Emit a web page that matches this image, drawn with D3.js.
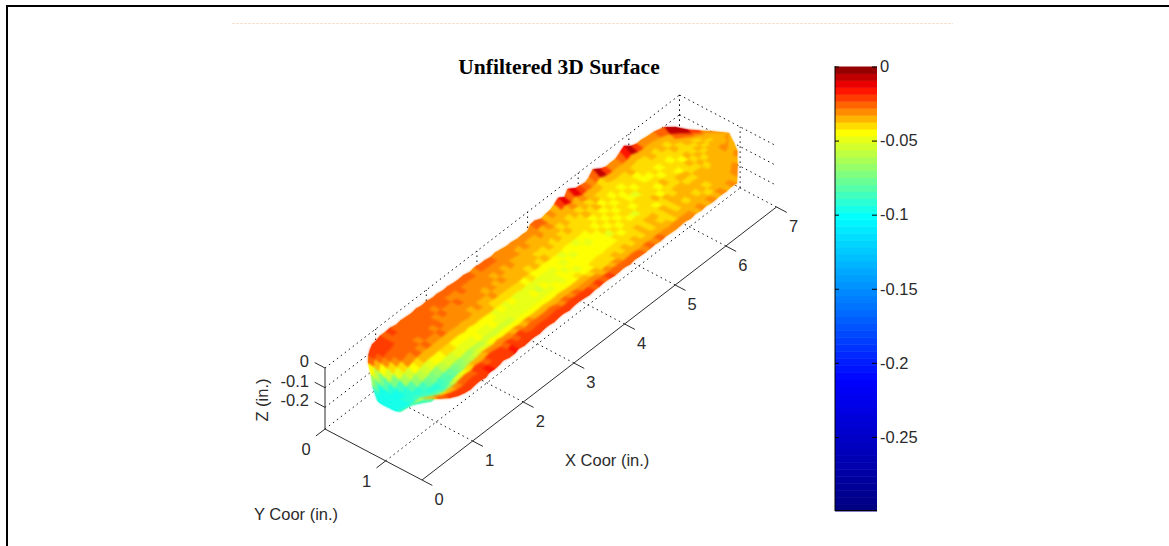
<!DOCTYPE html>
<html>
<head>
<meta charset="utf-8">
<script src="https://cdnjs.cloudflare.com/ajax/libs/d3/7.8.5/d3.min.js"></script>
<style>
  body { margin: 0; background: #fff; }
  text { font-family: "Liberation Sans", Arial, sans-serif; font-size: 16.5px; fill: #2b2b2b; }
  .title { font-family: "Liberation Serif", "Times New Roman", serif; font-size: 21.5px; font-weight: bold; fill: #000; }
  .grid { stroke: #111; stroke-width: 1; stroke-dasharray: 1.5 3.5; fill: none; }
  .axis3d { stroke: #2b2b2b; stroke-width: 1; fill: none; }
</style>
</head>
<body>
<div id="container"></div>
<script>
// axis ticks
var xTicks = [0, 1, 2, 3, 4, 5, 6, 7];
var yTicks = [0, 1];
var zTicks = [0, -0.1, -0.2];
var barTicks = [0, -0.05, -0.1, -0.15, -0.2, -0.25];

// jet style colour stops
var stopValues = [0, -0.014, -0.044, -0.101, -0.212, -0.3];
var stopColors = ["#800000", "#ff0000", "#ffff00", "#00ffff", "#0000ff", "#000080"];

// measured stations along X, with the edges of the scan in Y at each one
var xStations = [0.2,0.3,0.4,0.5,0.6,0.7,0.8,0.9,1.0,1.1,1.2,1.3,1.4,1.5,1.6,1.7,1.8,1.9,2.0,2.1,2.2,2.3,2.4,2.5,2.6,2.7,2.8,2.9,3.0,3.1,3.2,3.3,3.4,3.5,3.6,3.7,3.8,3.9,4.0,4.1,4.2,4.3,4.4,4.5,4.6,4.7,4.8,4.9,5.0,5.1,5.2,5.3,5.4,5.5,5.6,5.7,5.8,5.9,6.0,6.1,6.2,6.3,6.4,6.5,6.6,6.7,6.8,6.9];
var yTop = [.70,.54,.43,.30,.22,.16,.115,.10,.075,.08,.07,.09,.08,.085,.09,.08,.09,.085,.10,.09,.11,.10,.11,.12,.11,.13,.12,.13,.13,.14,.13,.14,.16,.15,.17,.16,.17,.13,.12,.14,.13,.12,.11,.09,.11,.08,.12,.11,.12,.10,.08,.11,.12,.11,.12,.11,.09,.12,.13,.12,.14,.16,.25,.35,.47,.58,.72,.88];
var yBottom = [1.12,1.22,1.30,1.44,1.55,1.61,1.64,1.65,1.64,1.63,1.65,1.62,1.63,1.62,1.60,1.62,1.63,1.60,1.62,1.61,1.60,1.62,1.60,1.60,1.61,1.60,1.59,1.61,1.60,1.59,1.60,1.61,1.60,1.60,1.59,1.60,1.61,1.60,1.60,1.61,1.60,1.60,1.61,1.60,1.60,1.61,1.60,1.60,1.61,1.60,1.60,1.61,1.60,1.61,1.60,1.61,1.61,1.60,1.61,1.60,1.61,1.53,1.45,1.37,1.28,1.20,1.06,.90];

// surface depth in thousandths of an inch below zero, one row per station, top edge to bottom edge
var depths = [
  [92,96,97,98,97,98,96,97,96,95,92,88,82,70],
  [66,84,94,97,98,97,95,94,96,97,92,76,58,40],
  [44,58,72,84,92,96,95,92,90,95,88,60,34,24],
  [28,33,44,56,72,86,93,92,86,90,84,48,25,21],
  [23,25,29,38,50,64,82,92,88,84,86,40,22,19],
  [22,23,25,29,38,52,70,86,92,82,76,34,21,18],
  [20,23,24,27,32,44,58,78,90,86,66,30,20,17],
  [22,22,26,25,30,38,52,72,88,84,56,27,20,18],
  [24,25,24,28,28,36,47,66,84,82,48,25,19,17],
  [23,24,26,27,30,33,44,60,76,76,44,24,19,19],
  [24,26,25,29,28,33,43,56,72,68,40,23,20,17],
  [25,26,24,28,30,33,42,52,68,64,37,22,18,18],
  [24,25,28,27,29,34,42,50,64,58,34,24,20,17],
  [25,27,26,29,28,33,43,48,62,54,33,22,19,18],
  [26,28,26,28,31,33,44,47,60,50,32,23,21,18],
  [24,26,31,29,29,35,43,47,58,48,31,22,19,20],
  [27,29,27,30,31,34,45,46,56,46,30,24,18,17],
  [25,27,30,29,32,35,44,47,55,45,32,23,20,19],
  [26,26,29,31,31,37,46,47,53,46,31,25,19,18],
  [27,29,28,30,33,35,46,46,54,44,33,23,21,19],
  [25,29,30,32,31,37,45,48,52,45,31,24,19,20],
  [27,28,29,31,34,37,47,47,52,44,33,26,20,17],
  [28,30,31,30,34,39,46,48,50,45,32,24,22,19],
  [26,30,29,33,32,38,47,47,51,44,34,27,20,18],
  [28,31,32,31,35,40,46,50,48,46,33,25,21,19],
  [29,29,30,34,33,39,48,47,50,44,34,28,20,18],
  [27,31,33,32,36,42,47,49,47,45,35,26,22,20],
  [28,30,31,36,34,40,48,46,50,43,34,29,20,19],
  [28,32,33,33,37,43,47,52,47,44,36,27,23,18],
  [30,30,32,36,35,41,49,46,49,43,34,30,21,20],
  [29,32,34,34,38,43,47,49,46,45,36,28,23,19],
  [31,31,33,37,36,44,47,47,47,43,35,31,21,20],
  [29,34,35,34,40,43,48,46,45,44,37,29,24,19],
  [32,32,34,38,37,44,46,48,46,42,36,32,22,20],
  [30,35,33,39,40,43,48,45,47,43,38,30,25,21],
  [32,33,36,36,39,47,45,46,44,44,37,33,23,19],
  [31,32,35,40,38,43,49,45,46,42,38,31,26,20],
  [24,34,37,37,41,44,46,46,44,42,39,34,24,22],
  [26,32,34,41,39,47,45,45,46,41,38,32,27,20],
  [33,36,38,37,42,43,48,43,45,42,36,35,25,23],
  [30,34,35,41,39,46,43,46,44,41,38,33,28,21],
  [33,37,39,38,42,42,46,44,43,42,37,36,26,24],
  [23,35,36,41,39,45,41,48,41,39,38,34,29,22],
  [14,32,38,37,43,41,45,42,45,39,37,36,27,25],
  [28,35,37,40,41,46,41,43,40,38,39,34,30,23],
  [10,30,39,37,44,42,45,40,42,37,37,37,28,24],
  [20,35,37,43,40,44,40,43,40,39,39,35,31,24],
  [28,37,42,39,44,42,42,48,38,37,37,37,29,26],
  [30,35,39,43,42,39,45,40,41,36,40,35,32,25],
  [24,38,41,40,44,43,40,42,39,38,38,38,30,27],
  [9,33,39,44,41,47,39,40,43,36,36,36,32,25],
  [21,36,42,39,43,40,42,37,40,38,38,34,30,28],
  [30,34,39,42,40,42,40,44,37,37,36,36,33,26],
  [32,37,37,43,43,39,43,38,40,34,39,35,31,28],
  [28,35,41,39,45,41,37,40,37,37,37,37,34,27],
  [15,37,38,42,41,45,39,41,36,35,39,35,32,29],
  [8,33,40,39,44,40,41,37,39,36,36,38,34,28],
  [23,36,37,41,39,41,46,36,38,33,38,35,32,30],
  [30,35,39,38,43,39,39,40,35,37,35,37,33,29],
  [32,37,36,40,40,43,36,38,36,34,37,34,31,29],
  [30,35,38,37,42,37,39,37,39,33,36,35,33,28],
  [25,37,36,40,38,39,37,39,35,35,34,33,32,30],
  [6,26,36,37,40,37,39,34,36,33,35,35,32,29],
  [9,28,37,38,36,38,36,36,33,34,33,36,33,31],
  [22,32,35,36,39,36,36,36,32,32,36,33,32,30],
  [29,33,36,37,35,37,34,34,33,32,33,35,33,31],
  [31,34,34,36,36,33,35,31,32,31,34,33,33,32],
  [32,34,35,34,35,34,32,32,30,31,32,34,33,33]
];

var width = 1169, height = 546;

var svg = d3.select("#container")
  .append("svg")
    .attr("width", width)
    .attr("height", height);

// page frame and the faint rule above the figure
svg.append("line").attr("x1", 6).attr("x2", width).attr("y1", 6).attr("y2", 6)
    .attr("stroke", "#000").attr("stroke-width", 2);
svg.append("line").attr("x1", 7).attr("x2", 7).attr("y1", 5).attr("y2", height)
    .attr("stroke", "#000").attr("stroke-width", 2);
svg.append("line").attr("x1", 232).attr("x2", 953).attr("y1", 23.5).attr("y2", 23.5)
    .attr("stroke", "#f7e3cf").attr("stroke-dasharray", "3 1");

svg.append("text")
    .attr("class", "title")
    .attr("x", 559).attr("y", 74)
    .attr("text-anchor", "middle")
    .text("Unfiltered 3D Surface");

// Oblique projection: one scale per data axis, each gives a screen offset
var xPx = d3.scaleLinear().domain([0, 7]).range([0, 354.5]);
var xPy = d3.scaleLinear().domain([0, 7]).range([0, -273]);
var yPx = d3.scaleLinear().domain([0, 1.6]).range([0, 97]);
var yPy = d3.scaleLinear().domain([0, 1.6]).range([0, 51]);
var zPy = d3.scaleLinear().domain([-0.31, 0]).range([0, -61]);

function project(x, y, z) {
  return [325 + xPx(x) + yPx(y), 429 + xPy(x) + yPy(y) + zPy(z)];
}

var line3d = d3.line();
var zMin = -0.31, xMax = 7, yMax = 1.6;

function seg(a, b) { return line3d([project(a[0], a[1], a[2]), project(b[0], b[1], b[2])]); }

// dotted grid on floor and the two back walls
var grid = svg.append("g").attr("class", "grid");
var gridSegs = [];
xTicks.slice(1).forEach(function(x) {
  gridSegs.push([[x, yMax, zMin], [x, 0, zMin]]);
  gridSegs.push([[x, 0, zMin], [x, 0, 0]]);
});
yTicks.forEach(function(y) {
  gridSegs.push([[0, y, zMin], [xMax, y, zMin]]);
  gridSegs.push([[xMax, y, zMin], [xMax, y, 0]]);
});
zTicks.forEach(function(z) {
  gridSegs.push([[0, 0, z], [xMax, 0, z]]);
  gridSegs.push([[xMax, 0, z], [xMax, yMax, z]]);
});
grid.selectAll("path")
  .data(gridSegs)
  .enter().append("path")
    .attr("d", function(d) { return seg(d[0], d[1]); });

// colour map: 64 flat levels like the figure colormap
var levels = d3.range(64);
var barY = d3.scaleLinear().domain([0, -0.3]).range([66.5, 511]);
var levelScale = d3.scaleLinear().domain([0, -0.3]).range([63.999, 0]);
var jet = d3.scaleLinear().domain(stopValues).range(stopColors).interpolate(d3.interpolateRgb);
function levelValue(l) { return levelScale.invert(l + 0.5); }
function colorOf(v) { return jet(levelValue(Math.floor(levelScale(v)))); }

// surface quads, far rows first, each coloured by its own sample
var filter = svg.append("defs").append("filter")
    .attr("id", "soft")
    .attr("color-interpolation-filters", "sRGB")
    .attr("filterUnits", "userSpaceOnUse")
    .attr("x", 330).attr("y", 90).attr("width", 450).attr("height", 360);
filter.append("feGaussianBlur").attr("stdDeviation", 0.8);

var quads = [];
var nCols = depths[0].length;
function node(i, j) {
  var y = yTop[i] + (yBottom[i] - yTop[i]) * j / (nCols - 1);
  return { x: xStations[i], y: y, z: -depths[i][j] / 1000 };
}
for (var i = xStations.length - 2; i >= 0; i--) {
  for (var j = 0; j < nCols - 1; j++) {
    var corners = [node(i, j), node(i + 1, j), node(i + 1, j + 1), node(i, j + 1)];
    quads.push({ corners: corners, v: corners[0].z });
  }
}

// crisp layer keeps the outline hard, the soft layer on top hides the quad edges
function drawSurface(g) {
  g.selectAll("path")
    .data(quads)
    .enter().append("path")
      .attr("d", function(d) {
        return line3d(d.corners.map(function(c) { return project(c.x, c.y, c.z); })) + "Z";
      })
      .attr("fill", function(d) { return colorOf(d.v); })
      .attr("stroke", function(d) { return colorOf(d.v); })
      .attr("stroke-width", 0.7);
}
svg.append("g").call(drawSurface);
svg.append("g").attr("filter", "url(#soft)").call(drawSurface);

// solid axes and ticks
var axes = svg.append("g").attr("class", "axis3d");
var axisSegs = [
  [[0, 0, zMin], [0, 0, 0]],
  [[0, 0, zMin], [0, yMax, zMin]],
  [[0, yMax, zMin], [xMax, yMax, zMin]]
];
xTicks.forEach(function(x) { axisSegs.push([[x, yMax, zMin], [x, yMax + 0.17, zMin]]); });
yTicks.forEach(function(y) { axisSegs.push([[0, y, zMin], [-0.18, y, zMin]]); });
zTicks.forEach(function(z) { axisSegs.push([[0, 0, z], [0, -0.17, z]]); });
axes.selectAll("path")
  .data(axisSegs)
  .enter().append("path")
    .attr("d", function(d) { return seg(d[0], d[1]); });

// tick labels sit a fixed distance past each tick
svg.append("g").selectAll("text")
  .data(xTicks)
  .enter().append("text")
    .attr("text-anchor", "middle")
    .attr("x", function(d) { return project(d, yMax, zMin)[0] + 17; })
    .attr("y", function(d) { return project(d, yMax, zMin)[1] + 25; })
    .text(function(d) { return d; });
svg.append("g").selectAll("text")
  .data(yTicks)
  .enter().append("text")
    .attr("text-anchor", "middle")
    .attr("x", function(d) { return project(0, d, zMin)[0] - 19; })
    .attr("y", function(d) { return project(0, d, zMin)[1] + 26; })
    .text(function(d) { return d; });
svg.append("g").selectAll("text")
  .data(zTicks)
  .enter().append("text")
    .attr("text-anchor", "end")
    .attr("x", 309)
    .attr("y", function(d) { return project(0, 0, d)[1] - 1; })
    .text(function(d) { return d; });

svg.append("text").attr("x", 565).attr("y", 466).text("X Coor (in.)");
svg.append("text").attr("x", 254).attr("y", 520).text("Y Coor (in.)");
svg.append("text")
    .attr("transform", "translate(268,400) rotate(-90)")
    .attr("text-anchor", "middle")
    .text("Z (in.)");

// colorbar
var barX = 835, barW = 42;
var bar = svg.append("g");
bar.selectAll("rect")
  .data(levels)
  .enter().append("rect")
    .attr("x", barX)
    .attr("width", barW)
    .attr("y", function(d) { return barY(levelScale.invert(d + 1)); })
    .attr("height", function(d) { return barY(levelScale.invert(d)) - barY(levelScale.invert(d + 1)) + 0.5; })
    .attr("fill", function(d) { return jet(levelValue(d)); });

var barAxis = d3.axisRight(barY)
    .tickValues(barTicks)
    .tickSize(0)
    .tickPadding(3)
    .tickFormat(function(d) { return String(d); });
var barG = svg.append("g")
    .attr("transform", "translate(" + (barX + barW) + ",0)")
    .call(barAxis);
barG.select(".domain").remove();
barG.selectAll("text").style("font-size", "16.5px").style("font-family", "\"Liberation Sans\", Arial, sans-serif");
barG.selectAll(".tick").append("line")
    .attr("x1", -5).attr("x2", 0).attr("stroke", "#000");
barG.selectAll(".tick").append("line")
    .attr("x1", -barW).attr("x2", -barW + 4).attr("stroke", "#000");
svg.append("line").attr("x1", barX).attr("x2", barX).attr("y1", 66).attr("y2", 511).attr("stroke", "#000");
svg.append("line").attr("x1", barX).attr("x2", barX + barW).attr("y1", 510.5).attr("y2", 510.5).attr("stroke", "#000");
</script>
</body>
</html>
